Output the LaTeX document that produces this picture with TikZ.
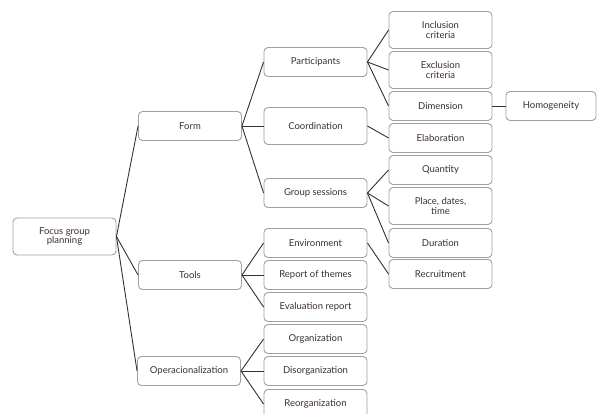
\documentclass[tikz,border=0pt]{standalone}
\usepackage{fontspec}
\setmainfont{Lato}
\definecolor{boxline}{RGB}{160,160,160}
\definecolor{boxtext}{RGB}{60,45,52}
\definecolor{linkline}{RGB}{50,50,50}

\begin{document}
\begin{tikzpicture}[x=1pt, y=-1pt,
		box/.style={draw=boxline, line width=0.9pt, rectangle, rounded corners=4, minimum width=103pt, minimum height=29pt, inner sep=1pt, align=center, text=boxtext, font=\fontsize{9.5}{9.5}\selectfont},
		tall/.style={minimum height=37pt},
		link/.style={draw=linkline, line width=0.9pt}]
			\clip (0, 0) rectangle (597, 414);
			\node[box, tall] (FGP)at(64.5, 236.5) {Focus group\\planning};
			\node[box] (Form)at(190, 126) {Form};
			\node[box] (Tools)at(190, 275) {Tools};
			\node[box] (Oper)at(189, 371) {Operacionalization};
			\node[box] (Part)at(315.5, 62) {Participants};
			\node[box, tall] (Coord)at(315.5, 126) {Coordination};
			\node[box] (GS)at(315.5, 193) {Group sessions};
			\node[box] (Env)at(315.5, 243) {Environment};
			\node[box] (RoT)at(315.5, 275) {Report of themes};
			\node[box] (ER)at(315.5, 307) {Evaluation report};
			\node[box] (Org)at(315.5, 339) {Organization};
			\node[box] (Disorg)at(315.5, 371) {Disorganization};
			\node[box] (Reorg)at(315.5, 404) {Reorganization};
			\node[box, tall] (Incl)at(440.5, 30) {Inclusion\\criteria};
			\node[box, tall] (Excl)at(440.5, 70) {Exclusion\\criteria};
			\node[box] (Dim)at(440.5, 106) {Dimension};
			\node[box] (Elab)at(440.5, 138) {Elaboration};
			\node[box] (Qty)at(440.5, 170) {Quantity};
			\node[box, tall] (PDT)at(440.5, 206) {Place, dates,\\time};
			\node[box] (Dur)at(440.5, 243) {Duration};
			\node[box] (Recr)at(440.5, 274) {Recruitment};
			\node[box, minimum width=90pt] (Homog)at(551, 106) {Homogeneity};
			\draw[link] (FGP.east) -- (Form.west);
			\draw[link] (FGP.east) -- (Tools.west);
			\draw[link] (FGP.east) -- (Oper.west);
			\draw[link] (Form.east) -- (Part.west);
			\draw[link] (Form.east) -- (Coord.west);
			\draw[link] (Form.east) -- (GS.west);
			\draw[link] (Tools.east) -- (Env.west);
			\draw[link] (Tools.east) -- (RoT.west);
			\draw[link] (Tools.east) -- (ER.west);
			\draw[link] (Oper.east) -- (Org.west);
			\draw[link] (Oper.east) -- (Disorg.west);
			\draw[link] (Oper.east) -- (Reorg.west);
			\draw[link] (Part.east) -- (Incl.west);
			\draw[link] (Part.east) -- (Excl.west);
			\draw[link] (Part.east) -- (Dim.west);
			\draw[link] (Coord.east) -- (Elab.west);
			\draw[link] (GS.east) -- (Qty.west);
			\draw[link] (GS.east) -- (PDT.west);
			\draw[link] (GS.east) -- (Dur.west);
			\draw[link] (Env.east) -- (Recr.west);
			\draw[link] (Dim.east) -- (Homog.west);
		\end{tikzpicture}
\end{document}
